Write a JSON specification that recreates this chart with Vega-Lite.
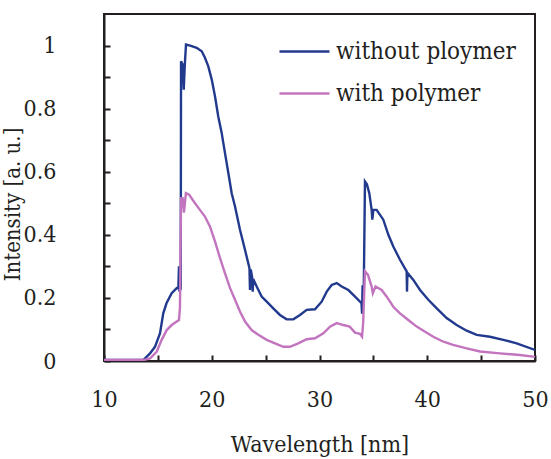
{
  "$schema": "https://vega.github.io/schema/vega-lite/v6.json",
  "width": 431,
  "height": 347,
  "autosize": "none",
  "padding": {"left": 104, "top": 14, "right": 16, "bottom": 98},
  "background": "white",
  "config": {
    "font": "DejaVu Serif Condensed",
    "view": {"stroke": "#231f20", "strokeWidth": 2},
    "axis": {"labelFont": "DejaVu Serif Condensed", "titleFont": "DejaVu Serif Condensed"},
    "legend": {"labelFont": "DejaVu Serif Condensed"}
  },
  "datasets": {
    "spec": [
      {"wl": 10, "intensity": 0.003, "series": "without ploymer"},
      {"wl": 13.65, "intensity": 0.003, "series": "without ploymer"},
      {"wl": 14.27, "intensity": 0.024, "series": "without ploymer"},
      {"wl": 14.73, "intensity": 0.045, "series": "without ploymer"},
      {"wl": 15.2, "intensity": 0.088, "series": "without ploymer"},
      {"wl": 15.5, "intensity": 0.151, "series": "without ploymer"},
      {"wl": 15.8, "intensity": 0.183, "series": "without ploymer"},
      {"wl": 16.28, "intensity": 0.215, "series": "without ploymer"},
      {"wl": 16.75, "intensity": 0.231, "series": "without ploymer"},
      {"wl": 16.9, "intensity": 0.23, "series": "without ploymer"},
      {"wl": 16.96, "intensity": 0.3, "series": "without ploymer"},
      {"wl": 17.0, "intensity": 0.22, "series": "without ploymer"},
      {"wl": 17.12, "intensity": 0.23, "series": "without ploymer"},
      {"wl": 17.15, "intensity": 0.95, "series": "without ploymer"},
      {"wl": 17.3, "intensity": 0.94, "series": "without ploymer"},
      {"wl": 17.4, "intensity": 0.86, "series": "without ploymer"},
      {"wl": 17.5, "intensity": 0.94, "series": "without ploymer"},
      {"wl": 17.61, "intensity": 1.003, "series": "without ploymer"},
      {"wl": 18.0, "intensity": 1.0, "series": "without ploymer"},
      {"wl": 18.6, "intensity": 0.993, "series": "without ploymer"},
      {"wl": 19.07, "intensity": 0.982, "series": "without ploymer"},
      {"wl": 19.37, "intensity": 0.961, "series": "without ploymer"},
      {"wl": 19.68, "intensity": 0.934, "series": "without ploymer"},
      {"wl": 20.0, "intensity": 0.892, "series": "without ploymer"},
      {"wl": 20.3, "intensity": 0.839, "series": "without ploymer"},
      {"wl": 20.6, "intensity": 0.776, "series": "without ploymer"},
      {"wl": 20.92, "intensity": 0.723, "series": "without ploymer"},
      {"wl": 21.23, "intensity": 0.659, "series": "without ploymer"},
      {"wl": 21.54, "intensity": 0.596, "series": "without ploymer"},
      {"wl": 21.85, "intensity": 0.532, "series": "without ploymer"},
      {"wl": 22.16, "intensity": 0.49, "series": "without ploymer"},
      {"wl": 22.62, "intensity": 0.416, "series": "without ploymer"},
      {"wl": 23.09, "intensity": 0.352, "series": "without ploymer"},
      {"wl": 23.5, "intensity": 0.294, "series": "without ploymer"},
      {"wl": 23.55, "intensity": 0.225, "series": "without ploymer"},
      {"wl": 23.62, "intensity": 0.29, "series": "without ploymer"},
      {"wl": 23.75, "intensity": 0.265, "series": "without ploymer"},
      {"wl": 23.8, "intensity": 0.22, "series": "without ploymer"},
      {"wl": 23.85, "intensity": 0.26, "series": "without ploymer"},
      {"wl": 24.17, "intensity": 0.236, "series": "without ploymer"},
      {"wl": 24.63, "intensity": 0.204, "series": "without ploymer"},
      {"wl": 25.1, "intensity": 0.188, "series": "without ploymer"},
      {"wl": 25.71, "intensity": 0.167, "series": "without ploymer"},
      {"wl": 26.33, "intensity": 0.146, "series": "without ploymer"},
      {"wl": 26.95, "intensity": 0.132, "series": "without ploymer"},
      {"wl": 27.57, "intensity": 0.132, "series": "without ploymer"},
      {"wl": 28.19, "intensity": 0.146, "series": "without ploymer"},
      {"wl": 28.81, "intensity": 0.162, "series": "without ploymer"},
      {"wl": 29.58, "intensity": 0.164, "series": "without ploymer"},
      {"wl": 30.2, "intensity": 0.188, "series": "without ploymer"},
      {"wl": 30.67, "intensity": 0.22, "series": "without ploymer"},
      {"wl": 31.13, "intensity": 0.241, "series": "without ploymer"},
      {"wl": 31.6, "intensity": 0.247, "series": "without ploymer"},
      {"wl": 32.06, "intensity": 0.236, "series": "without ploymer"},
      {"wl": 32.68, "intensity": 0.225, "series": "without ploymer"},
      {"wl": 33.3, "intensity": 0.204, "series": "without ploymer"},
      {"wl": 33.9, "intensity": 0.183, "series": "without ploymer"},
      {"wl": 33.95, "intensity": 0.15, "series": "without ploymer"},
      {"wl": 34.0, "intensity": 0.24, "series": "without ploymer"},
      {"wl": 34.1, "intensity": 0.2, "series": "without ploymer"},
      {"wl": 34.22, "intensity": 0.569, "series": "without ploymer"},
      {"wl": 34.4, "intensity": 0.56, "series": "without ploymer"},
      {"wl": 34.62, "intensity": 0.532, "series": "without ploymer"},
      {"wl": 34.84, "intensity": 0.479, "series": "without ploymer"},
      {"wl": 34.9, "intensity": 0.448, "series": "without ploymer"},
      {"wl": 35.0, "intensity": 0.479, "series": "without ploymer"},
      {"wl": 35.3, "intensity": 0.479, "series": "without ploymer"},
      {"wl": 35.92, "intensity": 0.448, "series": "without ploymer"},
      {"wl": 36.39, "intensity": 0.4, "series": "without ploymer"},
      {"wl": 36.85, "intensity": 0.363, "series": "without ploymer"},
      {"wl": 37.47, "intensity": 0.321, "series": "without ploymer"},
      {"wl": 38.09, "intensity": 0.284, "series": "without ploymer"},
      {"wl": 38.12, "intensity": 0.22, "series": "without ploymer"},
      {"wl": 38.16, "intensity": 0.28, "series": "without ploymer"},
      {"wl": 38.71, "intensity": 0.257, "series": "without ploymer"},
      {"wl": 39.33, "intensity": 0.225, "series": "without ploymer"},
      {"wl": 40.1, "intensity": 0.194, "series": "without ploymer"},
      {"wl": 40.88, "intensity": 0.167, "series": "without ploymer"},
      {"wl": 41.8, "intensity": 0.136, "series": "without ploymer"},
      {"wl": 42.73, "intensity": 0.114, "series": "without ploymer"},
      {"wl": 43.66, "intensity": 0.096, "series": "without ploymer"},
      {"wl": 44.59, "intensity": 0.083, "series": "without ploymer"},
      {"wl": 45.82, "intensity": 0.077, "series": "without ploymer"},
      {"wl": 47.06, "intensity": 0.067, "series": "without ploymer"},
      {"wl": 48.3, "intensity": 0.056, "series": "without ploymer"},
      {"wl": 50.0, "intensity": 0.035, "series": "without ploymer"},

      {"wl": 10, "intensity": 0.003, "series": "with polymer"},
      {"wl": 13.65, "intensity": 0.003, "series": "with polymer"},
      {"wl": 14.27, "intensity": 0.008, "series": "with polymer"},
      {"wl": 14.9, "intensity": 0.03, "series": "with polymer"},
      {"wl": 15.35, "intensity": 0.067, "series": "with polymer"},
      {"wl": 15.82, "intensity": 0.098, "series": "with polymer"},
      {"wl": 16.28, "intensity": 0.114, "series": "with polymer"},
      {"wl": 16.75, "intensity": 0.125, "series": "with polymer"},
      {"wl": 16.96, "intensity": 0.13, "series": "with polymer"},
      {"wl": 17.05, "intensity": 0.17, "series": "with polymer"},
      {"wl": 17.15, "intensity": 0.516, "series": "with polymer"},
      {"wl": 17.3, "intensity": 0.516, "series": "with polymer"},
      {"wl": 17.42, "intensity": 0.47, "series": "with polymer"},
      {"wl": 17.6, "intensity": 0.532, "series": "with polymer"},
      {"wl": 17.9, "intensity": 0.527, "series": "with polymer"},
      {"wl": 18.45, "intensity": 0.5, "series": "with polymer"},
      {"wl": 18.9, "intensity": 0.479, "series": "with polymer"},
      {"wl": 19.37, "intensity": 0.458, "series": "with polymer"},
      {"wl": 19.84, "intensity": 0.426, "series": "with polymer"},
      {"wl": 20.3, "intensity": 0.379, "series": "with polymer"},
      {"wl": 20.77, "intensity": 0.326, "series": "with polymer"},
      {"wl": 21.23, "intensity": 0.278, "series": "with polymer"},
      {"wl": 21.7, "intensity": 0.231, "series": "with polymer"},
      {"wl": 22.16, "intensity": 0.194, "series": "with polymer"},
      {"wl": 22.62, "intensity": 0.157, "series": "with polymer"},
      {"wl": 23.09, "intensity": 0.125, "series": "with polymer"},
      {"wl": 23.7, "intensity": 0.098, "series": "with polymer"},
      {"wl": 24.32, "intensity": 0.083, "series": "with polymer"},
      {"wl": 25.1, "intensity": 0.067, "series": "with polymer"},
      {"wl": 25.87, "intensity": 0.056, "series": "with polymer"},
      {"wl": 26.64, "intensity": 0.045, "series": "with polymer"},
      {"wl": 27.26, "intensity": 0.045, "series": "with polymer"},
      {"wl": 28.03, "intensity": 0.056, "series": "with polymer"},
      {"wl": 28.81, "intensity": 0.069, "series": "with polymer"},
      {"wl": 29.58, "intensity": 0.072, "series": "with polymer"},
      {"wl": 30.36, "intensity": 0.088, "series": "with polymer"},
      {"wl": 30.97, "intensity": 0.109, "series": "with polymer"},
      {"wl": 31.6, "intensity": 0.12, "series": "with polymer"},
      {"wl": 32.2, "intensity": 0.114, "series": "with polymer"},
      {"wl": 32.8, "intensity": 0.109, "series": "with polymer"},
      {"wl": 33.3, "intensity": 0.09, "series": "with polymer"},
      {"wl": 33.75, "intensity": 0.086, "series": "with polymer"},
      {"wl": 33.95, "intensity": 0.077, "series": "with polymer"},
      {"wl": 34.05, "intensity": 0.12, "series": "with polymer"},
      {"wl": 34.22, "intensity": 0.284, "series": "with polymer"},
      {"wl": 34.5, "intensity": 0.273, "series": "with polymer"},
      {"wl": 34.84, "intensity": 0.236, "series": "with polymer"},
      {"wl": 34.95, "intensity": 0.215, "series": "with polymer"},
      {"wl": 35.2, "intensity": 0.236, "series": "with polymer"},
      {"wl": 35.77, "intensity": 0.225, "series": "with polymer"},
      {"wl": 36.24, "intensity": 0.204, "series": "with polymer"},
      {"wl": 36.85, "intensity": 0.172, "series": "with polymer"},
      {"wl": 37.47, "intensity": 0.151, "series": "with polymer"},
      {"wl": 38.24, "intensity": 0.13, "series": "with polymer"},
      {"wl": 39.02, "intensity": 0.109, "series": "with polymer"},
      {"wl": 39.8, "intensity": 0.093, "series": "with polymer"},
      {"wl": 40.56, "intensity": 0.077, "series": "with polymer"},
      {"wl": 41.5, "intensity": 0.061, "series": "with polymer"},
      {"wl": 42.4, "intensity": 0.051, "series": "with polymer"},
      {"wl": 43.66, "intensity": 0.04, "series": "with polymer"},
      {"wl": 44.9, "intensity": 0.03, "series": "with polymer"},
      {"wl": 46.75, "intensity": 0.024, "series": "with polymer"},
      {"wl": 48.6, "intensity": 0.019, "series": "with polymer"},
      {"wl": 50.0, "intensity": 0.013, "series": "with polymer"}
    ]
  },
  "data": {"name": "spec"},
  "mark": {"type": "line", "strokeWidth": 2.4, "interpolate": "linear", "clip": true},
  "encoding": {
    "x": {
      "field": "wl", "type": "quantitative",
      "scale": {"domain": [10, 50], "nice": false, "zero": false},
      "axis": {
        "title": "Wavelength [nm]",
        "values": [10, 15, 20, 25, 30, 35, 40, 45, 50],
        "labelExpr": "datum.value % 10 == 0 ? datum.label : ''",
        "grid": false,
        "tickSize": -6, "tickColor": "#231f20", "tickWidth": 2,
        "domainColor": "#231f20", "domainWidth": 2,
        "labelFontSize": 23, "labelColor": "#231f20", "labelPadding": 33,
        "labelFlush": false,
        "titleFontSize": 23, "titleFontWeight": "normal", "titleColor": "#231f20", "titlePadding": 22
      }
    },
    "y": {
      "field": "intensity", "type": "quantitative",
      "scale": {"domain": [0, 1.1], "nice": false},
      "axis": {
        "title": "Intensity [a. u.]",
        "values": [0, 0.1, 0.2, 0.3, 0.4, 0.5, 0.6, 0.7, 0.8, 0.9, 1.0],
        "labelExpr": "round(datum.value * 10) % 2 == 0 ? format(datum.value, '~g') : ''",
        "grid": false,
        "tickSize": -6, "tickColor": "#231f20", "tickWidth": 2,
        "domainColor": "#231f20", "domainWidth": 2,
        "labelFontSize": 23, "labelColor": "#231f20", "labelPadding": 54,
        "labelFlush": false,
        "titleFontSize": 22, "titleFontWeight": "normal", "titleColor": "#231f20",
        "titleX": -92, "titleY": 190, "titleBaseline": "middle", "titleAlign": "center"
      }
    },
    "color": {
      "field": "series", "type": "nominal",
      "scale": {"domain": ["without ploymer", "with polymer"], "range": ["#223a8e", "#c374bf"]},
      "legend": {
        "title": null,
        "orient": "none",
        "legendX": 174,
        "legendY": 11,
        "symbolType": "stroke",
        "symbolSize": 2500,
        "symbolStrokeWidth": 2.4,
        "labelFontSize": 24,
        "labelColor": "#231f20",
        "labelOffset": 5,
        "rowPadding": 3,
        "labelLimit": 300
      }
    }
  }
}
